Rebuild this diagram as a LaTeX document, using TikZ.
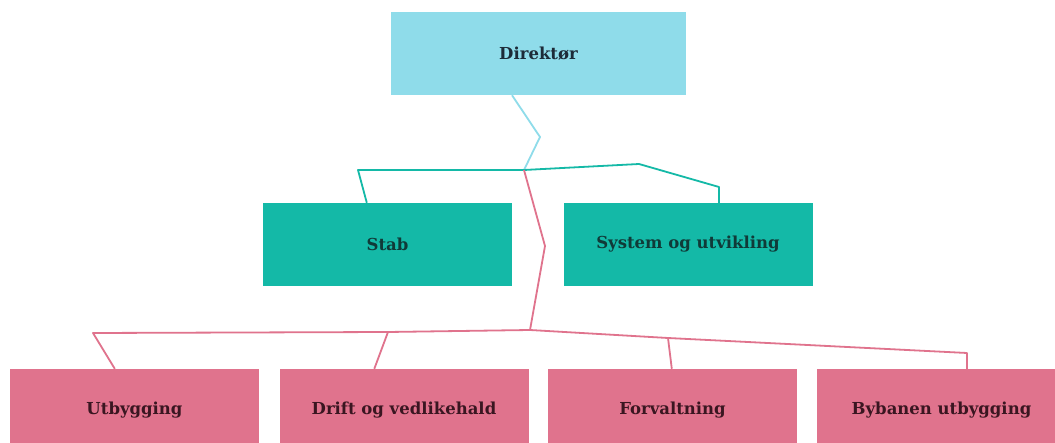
\documentclass[tikz,border=0pt]{standalone}
\usepackage{fontspec}
\setmainfont{DejaVu Serif}
\definecolor{dirblue}{HTML}{8FDCEA}
\definecolor{stabteal}{HTML}{14B9A7}
\definecolor{avdpink}{HTML}{E0738D}
\definecolor{dirtext}{HTML}{1D2B38}
\definecolor{stabtext}{HTML}{103A38}
\definecolor{avdtext}{HTML}{3A1621}
\begin{document}
\begin{tikzpicture}[x=1pt,y=-1pt,
    box/.style={rectangle, minimum height=83pt, inner sep=0pt, font=\bfseries\fontsize{16.5}{19}\selectfont},
    topbox/.style={box, fill=dirblue, text=dirtext, minimum width=295pt},
    stabbox/.style={box, fill=stabteal, text=stabtext, minimum width=249pt},
    avdbox/.style={box, fill=avdpink, text=avdtext, minimum width=249pt},
    blueline/.style={draw=dirblue, line width=1.8pt, line join=round},
    tealline/.style={draw=stabteal, line width=1.8pt, line join=round},
    pinkline/.style={draw=avdpink, line width=1.8pt, line join=round}]
  \path[use as bounding box, clip] (0,0) rectangle (1055,443);
  \fill[white] (0,0) rectangle (1055,443);
  % boxes
  \node[topbox] (dir) at (538.5,53.5) {Direktør};
  \node[stabbox] (stab) at (387.5,244.5) {Stab};
  \node[stabbox] (sys) at (688,244.5) {System og utvikling};
  \node[avdbox] (utb) at (134.5,410.5) {Utbygging};
  \node[avdbox] (drift) at (404,410.5) {Drift og vedlikehald};
  \node[avdbox] (forv) at (672.5,410.5) {Forvaltning};
  \node[avdbox] (byb) at (941.5,410.5) {Bybanen utbygging};
  % bends
  \coordinate (hub) at (524,170);
  \coordinate (d1) at (540,137);
  \coordinate (s0) at (358,170);
  \coordinate (y0) at (639,164);
  \coordinate (y1) at (719,187);
  \coordinate (p1) at (545,246);
  \coordinate (p2) at (530,330);
  \coordinate (u0) at (388,332);
  \coordinate (u1) at (93,333);
  \coordinate (f0) at (668,338);
  \coordinate (b0) at (967,353);
  % connectors
  \draw[blueline] ([xshift=-26.5pt]dir.south) -- (d1) -- (hub);
  \draw[tealline] ([xshift=104pt]stab.north west) -- (s0) -- (hub) -- (y0) -- (y1) -- (y1 |- sys.north);
  \draw[pinkline] (hub) -- (p1) -- (p2) -- (u0) -- (u1) -- ([xshift=105pt]utb.north west);
  \draw[pinkline] (u0) -- ([xshift=95pt]drift.north west);
  \draw[pinkline] (p2) -- (f0) -- ([xshift=124pt]forv.north west);
  \draw[pinkline] (f0) -- (b0) -- (b0 |- byb.north);
\end{tikzpicture}
\end{document}
